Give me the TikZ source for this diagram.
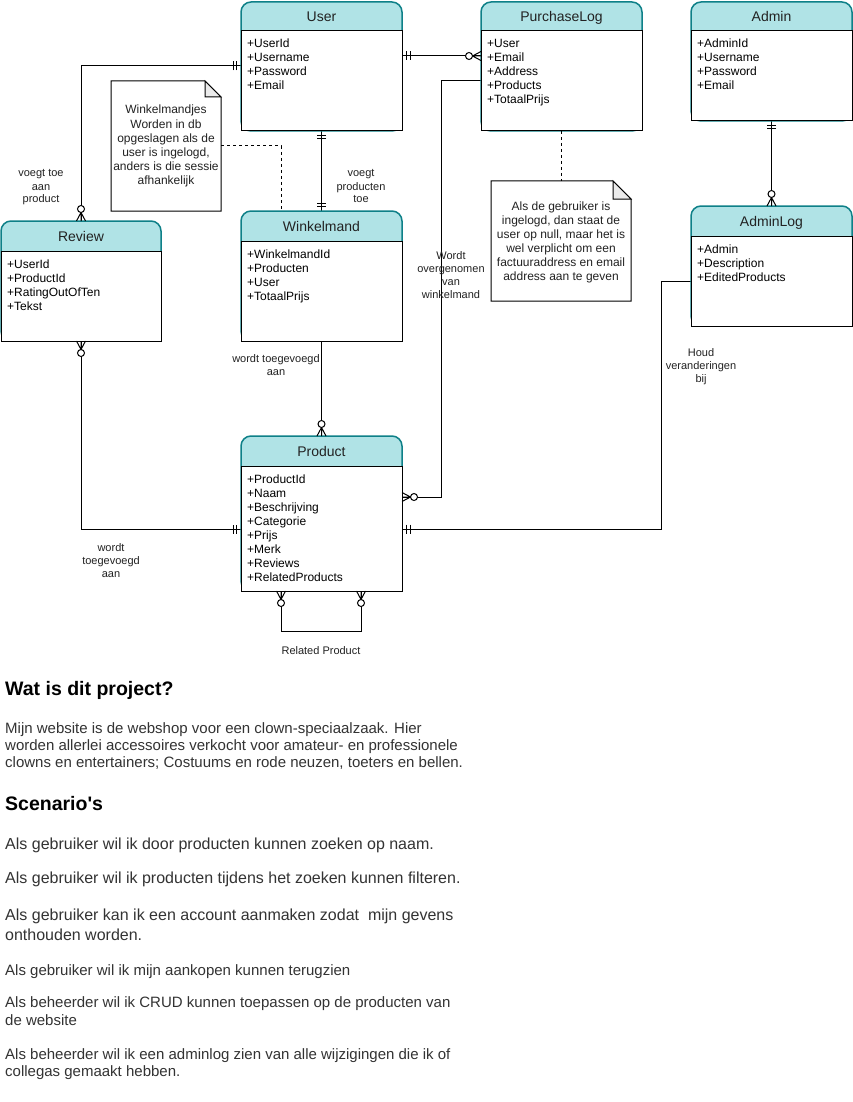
\documentclass[tikz,border=0pt]{standalone}
\usepackage{fontspec}
\setmainfont{Liberation Sans}[Ligatures=TeXOff]
\usetikzlibrary{calc}

\definecolor{hdrfill}{HTML}{B0E3E6}
\definecolor{hdrline}{HTML}{0E8088}
\definecolor{notefold}{HTML}{EBEBEB}
\definecolor{prose}{HTML}{333333}
\definecolor{labelgrey}{HTML}{222222}

\tikzset{
  swim/.style={draw=hdrline, line width=1.5pt, fill=hdrfill, rounded corners=10pt, inner sep=0, outer sep=0},
  erbody/.style={draw=black, line width=1pt, fill=white, inner sep=0, outer sep=0},
  ertitle/.style={font=\fontsize{14}{16}\selectfont, inner sep=0, text=labelgrey},
  erfield/.style={font=\fontsize{12}{14}\selectfont, inner sep=0, text=black},
  notetext/.style={font=\fontsize{12}{14}\selectfont, inner sep=0, text=labelgrey},
  edgelabel/.style={font=\fontsize{11}{13}\selectfont, inner sep=0, text=labelgrey},
  pagehead/.style={font=\fontsize{19.5}{23}\selectfont\bfseries, inner sep=0, text=black},
  prosetext/.style={font=\fontsize{15}{18}\selectfont, inner sep=0, text=prose},
  prosebig/.style={font=\fontsize{16}{19}\selectfont, inner sep=0, text=prose},
  relline/.style={draw=black, line width=1pt},
  notelink/.style={draw=black, line width=1pt, dash pattern=on 3pt off 3pt},
  notebox/.style={inner sep=0, outer sep=0},
}

% entity: name, left, top, right, bottom, header bottom, title, fields
\newcommand\erentity[8]{%
  \node[swim, minimum width={#4-#2}, minimum height={#5-#3}, anchor=north west] (#1) at (#2,#3) {};
  \node[erbody, minimum width={#4-#2}, minimum height={#5-#6}, anchor=north west] (#1-body) at (#2,#6) {};
  \node[ertitle, anchor=base] (#1-title) at ({(#2+#4)/2},{(#3+#6)/2+5}) {#7};
  \foreach \f [count=\i] in {#8}
    \node[erfield, anchor=base west] (#1-f\i) at (#2+6,{#6+17+14*(\i-1)}) {\f};
}

% note with folded corner: name, left, top, right, bottom, fold size
\newcommand\foldnote[6]{%
  \node[notebox, minimum width={#4-#2}, minimum height={#5-#3}, anchor=north west] (#1) at (#2,#3) {};
  \draw[line width=1pt, fill=white] (#1.north west) -- ([xshift=-#6pt]#1.north east)
     -- ([yshift=-#6pt]#1.north east) -- (#1.south east) -- (#1.south west) -- cycle;
  \draw[line width=1pt, fill=notefold] ([xshift=-#6pt]#1.north east)
     -- ([xshift=-#6pt,yshift=-#6pt]#1.north east) -- ([yshift=-#6pt]#1.north east) -- cycle;
}

% lines of text: name, style, x, first baseline, step, lines
\newcommand\txtlines[6]{%
  \foreach \l [count=\i] in {#6}
    \node[anchor=base, #2] (#1-\i) at (#3,{#4+#5*(\i-1)}) {\l};
}

% crow's foot markers: point on entity border, direction pointing away from entity
\newcommand\ermandone[2]{%
  \begin{scope}[shift={(#1)}, rotate=#2]
    \draw[line width=1pt] (4.5,-4.5) -- (4.5,4.5) (8,-4.5) -- (8,4.5);
  \end{scope}}
\newcommand\erzeromany[2]{%
  \begin{scope}[shift={(#1)}, rotate=#2]
    \draw[line width=1pt] (0,-4.5) -- (8.5,0) -- (0,4.5) (0,0) -- (8.5,0);
    \draw[line width=1pt, fill=white] (12,0) circle[radius=3.5];
  \end{scope}}

\begin{document}
\begin{tikzpicture}[x=1pt, y=-1pt]
\fill[white] (0,0) rectangle (853,1102);
\useasboundingbox (0,0) rectangle (853,1102);

% ---------- notes ----------
\foldnote{note1}{111}{81}{221}{211}{16}
\txtlines{note1t}{notetext}{166}{114}{14.2}{Winkelmandjes,Worden in db,opgeslagen als de,{user is ingelogd,},anders is die sessie,afhankelijk}
\foldnote{note2}{491}{181}{631}{301}{18}
\txtlines{note2t}{notetext}{561}{210}{14}{Als de gebruiker is,{ingelogd, dan staat de},{user op null, maar het is},wel verplicht om een,factuuraddress en email,address aan te geven}

% ---------- relationship lines ----------
\draw[relline] (241,66) coordinate (u-r) -| (81,221) coordinate (r-u);
\draw[relline] (402,56) coordinate (u-pl) -- (481,56) coordinate (pl-u);
\draw[relline] (321.5,131) coordinate (u-w) -- (321.5,211) coordinate (w-u);
\draw[relline] (321.5,341) coordinate (w-p) -- (321.5,436) coordinate (p-w);
\draw[relline] (81,341) coordinate (r-p) |- (241,529) coordinate (p-r);
\draw[relline] (481,81) coordinate (pl-p) -- (441,81) |- (402,497) coordinate (p-pl);
\draw[relline] (691,281) coordinate (al-p) -- (661,281) |- (402,529) coordinate (p-al);
\draw[relline] (771.5,121) coordinate (a-al) -- (771.5,206) coordinate (al-a);
\draw[relline] (281,591) coordinate (p-rel1) -- (281,631) -- (361,631) -- (361,591) coordinate (p-rel2);

% ---------- entities ----------
\erentity{user}{241}{2}{402}{131}{31}{User}{+UserId,+Username,+Password,+Email}
\erentity{plog}{481}{2}{642}{131}{31}{PurchaseLog}{+User,+Email,+Address,+Products,+TotaalPrijs}
\erentity{admin}{691}{2}{852}{121}{31}{Admin}{+AdminId,+Username,+Password,+Email}
\erentity{adminlog}{691}{206}{852}{326}{236}{AdminLog}{+Admin,+Description,+EditedProducts}
\erentity{review}{1}{221}{161}{341}{251}{Review}{+UserId,+ProductId,+RatingOutOfTen,+Tekst}
\erentity{winkel}{241}{211}{402}{341}{241}{Winkelmand}{+WinkelmandId,+Producten,+User,+TotaalPrijs}
\erentity{product}{241}{436}{402}{591}{466}{Product}{+ProductId,+Naam,+Beschrijving,+Categorie,+Prijs,+Merk,+Reviews,+RelatedProducts}

% ---------- note links ----------
\draw[notelink] (note1.east) -| (winkel.north -| 281,0);
\draw[notelink] (plog.south) -- (plog.south |- note2.north);

% ---------- cardinality markers ----------
\ermandone{u-r}{180}
\erzeromany{r-u}{90}
\ermandone{u-pl}{0}
\erzeromany{pl-u}{180}
\ermandone{u-w}{-90}
\ermandone{w-u}{90}
\erzeromany{p-w}{90}
\erzeromany{r-p}{-90}
\ermandone{p-r}{180}
\erzeromany{p-pl}{0}
\ermandone{p-al}{0}
\ermandone{a-al}{-90}
\erzeromany{al-a}{90}
\erzeromany{p-rel1}{-90}
\erzeromany{p-rel2}{-90}

% ---------- relationship labels ----------
\txtlines{lbl-ur}{edgelabel}{41}{177}{13}{voegt toe,aan,product}
\txtlines{lbl-uw}{edgelabel}{361}{177}{13}{voegt,producten,toe}
\txtlines{lbl-wp}{edgelabel}{276}{362}{13}{wordt toegevoegd,aan}
\txtlines{lbl-rp}{edgelabel}{111}{551}{13}{wordt,toegevoegd,aan}
\txtlines{lbl-rel}{edgelabel}{321}{654}{13}{Related Product}
\txtlines{lbl-plp}{edgelabel}{451}{259}{13.3}{Wordt,overgenomen,van,winkelmand}
\txtlines{lbl-alp}{edgelabel}{701}{356}{13}{Houd,veranderingen,bij}

% ---------- project description ----------
\node[pagehead, anchor=base west] (h1) at (5,695) {Wat is dit project?};
\txtlines{intro}{prosetext, anchor=base west}{5}{733}{17}{Mijn website is de webshop voor een clown-speciaalzaak. Hier,worden allerlei accessoires verkocht voor amateur- en professionele,{clowns en entertainers; Costuums en rode neuzen, toeters en bellen.}}
\node[pagehead, anchor=base west] (h2) at (5,810) {Scenario's};
\node[prosebig, anchor=base west] (s1) at (5,849) {Als gebruiker wil ik door producten kunnen zoeken op naam.};
\node[prosebig, anchor=base west] (s2) at (5,883) {Als gebruiker wil ik producten tijdens het zoeken kunnen filteren.};
\node[prosebig, anchor=base west] (s3a) at (5,920) {Als gebruiker kan ik een account aanmaken zodat\ \ mijn gevens};
\node[prosebig, anchor=base west] (s3b) at (5,940) {onthouden worden.};
\node[prosetext, anchor=base west] (s4) at (5,975) {Als gebruiker wil ik mijn aankopen kunnen terugzien};
\node[prosetext, anchor=base west] (s5a) at (5,1007) {Als beheerder wil ik CRUD kunnen toepassen op de producten van};
\node[prosetext, anchor=base west] (s5b) at (5,1025) {de website};
\node[prosetext, anchor=base west] (s6a) at (5,1059) {Als beheerder wil ik een adminlog zien van alle wijzigingen die ik of};
\node[prosetext, anchor=base west] (s6b) at (5,1076) {collegas gemaakt hebben.};
\end{tikzpicture}
\end{document}
